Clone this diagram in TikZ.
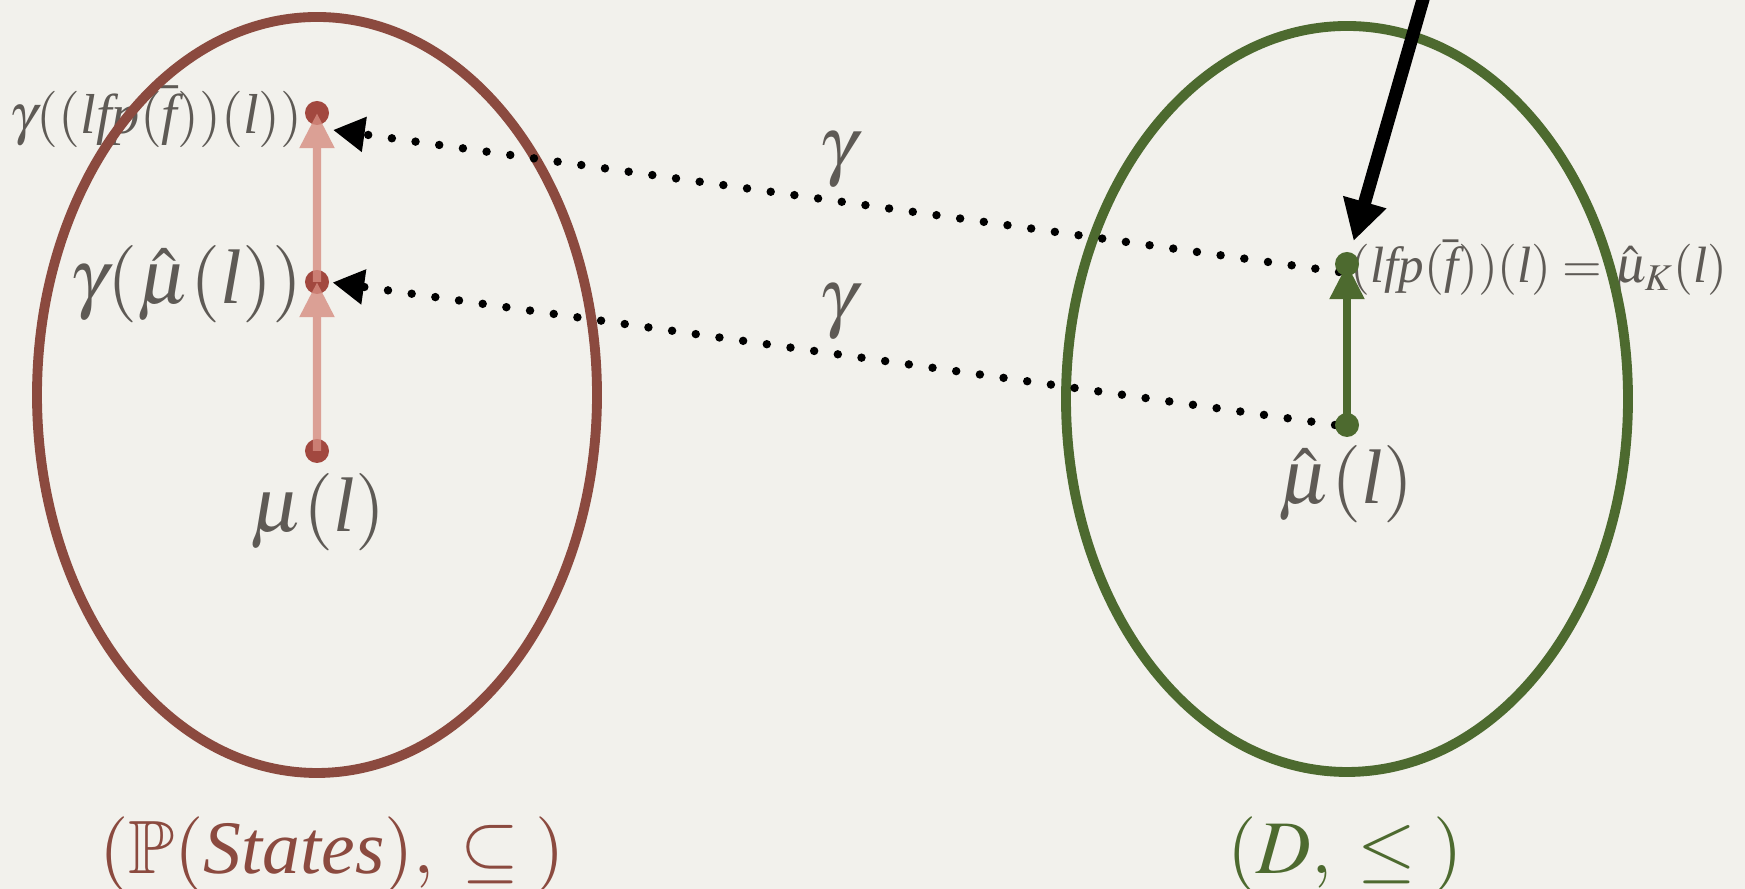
\documentclass[tikz,border=0pt]{standalone}
\usepackage{amssymb}
\usepackage{mathptmx}
\usepackage{fontspec}
\setmainfont{Liberation Serif}
\usetikzlibrary{arrows.meta,calc,positioning}
\definecolor{paper}{HTML}{F2F1EC}
\definecolor{setbrown}{HTML}{8B4A3F}
\definecolor{setgreen}{HTML}{4D6A2F}
\definecolor{dotred}{HTML}{A2483F}
\definecolor{liftpink}{HTML}{D68C80}
\definecolor{inkgrey}{HTML}{5E5A55}

\begin{document}
\begin{tikzpicture}[x=0.01cm,y=0.01cm,
  biglbl/.style={inner sep=0pt,text=inkgrey,font=\fontsize{22}{26}\selectfont},
  smalllbl/.style={inner sep=0pt,text=inkgrey,font=\fontsize{16}{18}\selectfont},
  fixlbl/.style={inner sep=0pt,text=inkgrey,font=\fontsize{14.5}{17}\selectfont},
  setlbl/.style={inner sep=0pt,font=\fontsize{21.5}{26}\selectfont},
  reddot/.style={circle,fill=dotred,inner sep=0pt,minimum size=0.24cm},
  greendot/.style={circle,fill=setgreen,inner sep=0pt,minimum size=0.24cm},
  lift/.style={-{Triangle[length=10pt,width=9.4pt]},line width=2.3pt,liftpink},
  climb/.style={-{Triangle[length=10pt,width=9.4pt]},line width=2.3pt,setgreen},
  gmap/.style={-{Triangle[length=9pt,width=9.5pt]},line width=2.4pt,
    dash pattern=on 0pt off 6.8pt,line cap=round},
  feed/.style={-{Triangle[length=11.5pt,width=12pt]},line width=3.7pt}]
\useasboundingbox (0,0) rectangle (1745,889);
\fill[paper] (0,0) rectangle (1745,889);

\node[smalllbl,anchor=base east] (glLbl) at (303,755)
  {$\gamma((\textit{lfp}(\bar{\textit{f}}))(\textit{l}))$};
\node[biglbl,anchor=base east] (gmLbl) at (303,585) {$\gamma(\hat{\mu}(\textit{l}))$};
\node[biglbl,anchor=base] (muLbl) at (318,357) {$\mu(\textit{l})$};
\node[biglbl,anchor=base] (muRLbl) at (1346,385) {$\hat{\mu}(\textit{l})$};
\node[fixlbl,anchor=base west] (fixLbl) at (1350,606)
  {$(\textit{lfp}(\bar{\textit{f}}))(\textit{l}) = \hat{\mu}_K(\textit{l})$};
\node[biglbl,anchor=base] (gTop) at (838,718) {$\gamma$};
\node[biglbl,anchor=base] (gLow) at (838,566) {$\gamma$};
\node[setlbl,text=setbrown,anchor=base] (concSet) at (332,15)
  {$(\mathbb{P}(\textit{States}),\;\subseteq\;)$};
\node[setlbl,text=setgreen,anchor=base] (absSet) at (1345,15) {$(D,\;\leq\;)$};

\draw[setbrown,line width=2.8pt] (317,494) ellipse [x radius=280,y radius=378];
\draw[setgreen,line width=2.8pt] (1347,490) ellipse [x radius=281,y radius=373];

\coordinate (mu) at (317,438);
\coordinate (gm) at (317,607);
\coordinate (gl) at (317,776);
\coordinate (muR) at (1347,464);
\coordinate (fixR) at (1347,625);
\coordinate (src) at (1426,900);

\draw[gmap] ($(fixR)+(-8,-8)$) -- ($(gl)+(16,-17)$);
\draw[gmap,shorten >=1pt] ($(muR)+(-12,0)$) -- ($(gm)+(12,0)$);
\draw[feed,shorten >=6.8pt] (src) -- (fixR);

\node[reddot] (muDot) at (mu) {};
\node[reddot] (gmDot) at (gm) {};
\node[reddot] (glDot) at (gl) {};
\draw[climb] (muR) -- (fixR);
\node[greendot] (muRDot) at (muR) {};
\node[greendot] (fixRDot) at (fixR) {};
\begin{scope}[transparency group,opacity=.8]
\draw[lift] (muDot.center) -- (gmDot.center);
\draw[lift] (gmDot.center) -- (glDot.center);
\end{scope}
\end{tikzpicture}
\end{document}
